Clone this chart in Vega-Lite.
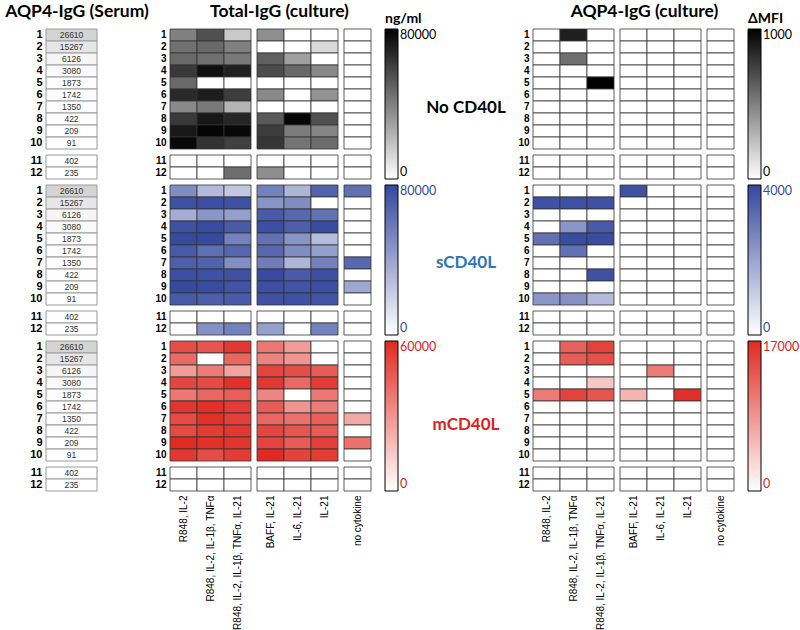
{
"$schema":"https://vega.github.io/schema/vega-lite/v6.json",
"padding":{"left":5,"top":0,"right":2,"bottom":0},
"background":"white",
"columns":8,
"spacing":{"row":6,"column":6},
"align":"each",
"bounds":"flush",
"resolve":{"scale":{"color":"independent"},"legend":{"color":"independent"}},
"config":{
 "view":{"stroke":null},
 "font":"Liberation Sans",
 "rect":{"stroke":"#333","strokeWidth":0.8},
 "axis":{"domain":false,"ticks":false,"labelColor":"#000"},
 "axisY":{"labelFontWeight":"bold","labelFontSize":10,"labelPadding":4},
 "axisX":{"labelAngle":-90,"labelFontSize":10,"labelPadding":4,"labelLimit":250},
 "legend":{"gradientLength":150,"gradientThickness":13,"labelFontSize":12.5,"labelFont":"Lato","labelOffset":2,"titleFontSize":14,"titleFont":"Lato","titleFontWeight":"bold","titlePadding":3,"gradientStrokeColor":"#000","gradientStrokeWidth":1,"padding":0,"labelOverlap":false}
},
"datasets":{
"S":[{"p":1,"v":26610},{"p":2,"v":15267},{"p":3,"v":6126},{"p":4,"v":3080},{"p":5,"v":1873},{"p":6,"v":1742},{"p":7,"v":1350},{"p":8,"v":422},{"p":9,"v":209},{"p":10,"v":91},{"p":11,"v":402},{"p":12,"v":235}],
"cyto":[{"k":1,"c":"R848, IL-2"},{"k":2,"c":"R848, IL-2, IL-1β, TNFα"},{"k":3,"c":"R848, IL-2, IL-1β, TNFα, IL-21"},{"k":4,"c":"BAFF, IL-21"},{"k":5,"c":"IL-6, IL-21"},{"k":6,"c":"IL-21"},{"k":7,"c":"no cytokine"}],
"T":[
{"s":"N","p":1,"k":1,"v":40000},{"s":"N","p":1,"k":2,"v":55000},{"s":"N","p":1,"k":3,"v":17000},{"s":"N","p":1,"k":4,"v":35000},{"s":"N","p":1,"k":5,"v":0},{"s":"N","p":1,"k":6,"v":0},{"s":"N","p":1,"k":7,"v":0},
{"s":"N","p":2,"k":1,"v":45000},{"s":"N","p":2,"k":2,"v":47000},{"s":"N","p":2,"k":3,"v":40000},{"s":"N","p":2,"k":4,"v":0},{"s":"N","p":2,"k":5,"v":0},{"s":"N","p":2,"k":6,"v":12000},{"s":"N","p":2,"k":7,"v":0},
{"s":"N","p":3,"k":1,"v":47000},{"s":"N","p":3,"k":2,"v":45000},{"s":"N","p":3,"k":3,"v":42000},{"s":"N","p":3,"k":4,"v":50000},{"s":"N","p":3,"k":5,"v":30000},{"s":"N","p":3,"k":6,"v":0},{"s":"N","p":3,"k":7,"v":0},
{"s":"N","p":4,"k":1,"v":62000},{"s":"N","p":4,"k":2,"v":75000},{"s":"N","p":4,"k":3,"v":70000},{"s":"N","p":4,"k":4,"v":56000},{"s":"N","p":4,"k":5,"v":47000},{"s":"N","p":4,"k":6,"v":37000},{"s":"N","p":4,"k":7,"v":0},
{"s":"N","p":5,"k":1,"v":47000},{"s":"N","p":5,"k":2,"v":0},{"s":"N","p":5,"k":3,"v":0},{"s":"N","p":5,"k":4,"v":0},{"s":"N","p":5,"k":5,"v":0},{"s":"N","p":5,"k":6,"v":0},{"s":"N","p":5,"k":7,"v":0},
{"s":"N","p":6,"k":1,"v":67000},{"s":"N","p":6,"k":2,"v":71000},{"s":"N","p":6,"k":3,"v":61000},{"s":"N","p":6,"k":4,"v":37000},{"s":"N","p":6,"k":5,"v":0},{"s":"N","p":6,"k":6,"v":34000},{"s":"N","p":6,"k":7,"v":0},
{"s":"N","p":7,"k":1,"v":37000},{"s":"N","p":7,"k":2,"v":42000},{"s":"N","p":7,"k":3,"v":23500},{"s":"N","p":7,"k":4,"v":0},{"s":"N","p":7,"k":5,"v":0},{"s":"N","p":7,"k":6,"v":0},{"s":"N","p":7,"k":7,"v":0},
{"s":"N","p":8,"k":1,"v":62000},{"s":"N","p":8,"k":2,"v":72500},{"s":"N","p":8,"k":3,"v":68000},{"s":"N","p":8,"k":4,"v":52000},{"s":"N","p":8,"k":5,"v":78000},{"s":"N","p":8,"k":6,"v":55000},{"s":"N","p":8,"k":7,"v":0},
{"s":"N","p":9,"k":1,"v":72500},{"s":"N","p":9,"k":2,"v":78500},{"s":"N","p":9,"k":3,"v":77500},{"s":"N","p":9,"k":4,"v":61000},{"s":"N","p":9,"k":5,"v":41000},{"s":"N","p":9,"k":6,"v":38500},{"s":"N","p":9,"k":7,"v":0},
{"s":"N","p":10,"k":1,"v":77500},{"s":"N","p":10,"k":2,"v":64000},{"s":"N","p":10,"k":3,"v":60000},{"s":"N","p":10,"k":4,"v":63000},{"s":"N","p":10,"k":5,"v":43500},{"s":"N","p":10,"k":6,"v":46000},{"s":"N","p":10,"k":7,"v":0},
{"s":"N","p":11,"k":1,"v":0},{"s":"N","p":11,"k":2,"v":0},{"s":"N","p":11,"k":3,"v":0},{"s":"N","p":11,"k":4,"v":0},{"s":"N","p":11,"k":5,"v":0},{"s":"N","p":11,"k":6,"v":0},{"s":"N","p":11,"k":7,"v":0},
{"s":"N","p":12,"k":1,"v":0},{"s":"N","p":12,"k":2,"v":0},{"s":"N","p":12,"k":3,"v":45500},{"s":"N","p":12,"k":4,"v":35500},{"s":"N","p":12,"k":5,"v":0},{"s":"N","p":12,"k":6,"v":0},{"s":"N","p":12,"k":7,"v":0},
{"s":"S","p":1,"k":1,"v":50000},{"s":"S","p":1,"k":2,"v":30000},{"s":"S","p":1,"k":3,"v":24000},{"s":"S","p":1,"k":4,"v":55000},{"s":"S","p":1,"k":5,"v":32000},{"s":"S","p":1,"k":6,"v":68000},{"s":"S","p":1,"k":7,"v":62000},
{"s":"S","p":2,"k":1,"v":76000},{"s":"S","p":2,"k":2,"v":77000},{"s":"S","p":2,"k":3,"v":76000},{"s":"S","p":2,"k":4,"v":47000},{"s":"S","p":2,"k":5,"v":50000},{"s":"S","p":2,"k":6,"v":0},{"s":"S","p":2,"k":7,"v":0},
{"s":"S","p":3,"k":1,"v":36000},{"s":"S","p":3,"k":2,"v":46000},{"s":"S","p":3,"k":3,"v":42000},{"s":"S","p":3,"k":4,"v":72000},{"s":"S","p":3,"k":5,"v":66000},{"s":"S","p":3,"k":6,"v":62000},{"s":"S","p":3,"k":7,"v":0},
{"s":"S","p":4,"k":1,"v":76000},{"s":"S","p":4,"k":2,"v":78000},{"s":"S","p":4,"k":3,"v":72000},{"s":"S","p":4,"k":4,"v":77000},{"s":"S","p":4,"k":5,"v":70000},{"s":"S","p":4,"k":6,"v":78000},{"s":"S","p":4,"k":7,"v":0},
{"s":"S","p":5,"k":1,"v":79000},{"s":"S","p":5,"k":2,"v":79000},{"s":"S","p":5,"k":3,"v":55000},{"s":"S","p":5,"k":4,"v":62000},{"s":"S","p":5,"k":5,"v":47000},{"s":"S","p":5,"k":6,"v":29000},{"s":"S","p":5,"k":7,"v":0},
{"s":"S","p":6,"k":1,"v":72000},{"s":"S","p":6,"k":2,"v":63000},{"s":"S","p":6,"k":3,"v":67000},{"s":"S","p":6,"k":4,"v":66000},{"s":"S","p":6,"k":5,"v":50000},{"s":"S","p":6,"k":6,"v":42000},{"s":"S","p":6,"k":7,"v":0},
{"s":"S","p":7,"k":1,"v":70000},{"s":"S","p":7,"k":2,"v":68000},{"s":"S","p":7,"k":3,"v":49000},{"s":"S","p":7,"k":4,"v":57000},{"s":"S","p":7,"k":5,"v":32000},{"s":"S","p":7,"k":6,"v":55000},{"s":"S","p":7,"k":7,"v":66000},
{"s":"S","p":8,"k":1,"v":77000},{"s":"S","p":8,"k":2,"v":76000},{"s":"S","p":8,"k":3,"v":76000},{"s":"S","p":8,"k":4,"v":79000},{"s":"S","p":8,"k":5,"v":72000},{"s":"S","p":8,"k":6,"v":77000},{"s":"S","p":8,"k":7,"v":0},
{"s":"S","p":9,"k":1,"v":79000},{"s":"S","p":9,"k":2,"v":78000},{"s":"S","p":9,"k":3,"v":75000},{"s":"S","p":9,"k":4,"v":77000},{"s":"S","p":9,"k":5,"v":75000},{"s":"S","p":9,"k":6,"v":77000},{"s":"S","p":9,"k":7,"v":38000},
{"s":"S","p":10,"k":1,"v":72000},{"s":"S","p":10,"k":2,"v":70000},{"s":"S","p":10,"k":3,"v":72000},{"s":"S","p":10,"k":4,"v":76000},{"s":"S","p":10,"k":5,"v":76000},{"s":"S","p":10,"k":6,"v":75000},{"s":"S","p":10,"k":7,"v":0},
{"s":"S","p":11,"k":1,"v":0},{"s":"S","p":11,"k":2,"v":0},{"s":"S","p":11,"k":3,"v":0},{"s":"S","p":11,"k":4,"v":0},{"s":"S","p":11,"k":5,"v":0},{"s":"S","p":11,"k":6,"v":0},{"s":"S","p":11,"k":7,"v":0},
{"s":"S","p":12,"k":1,"v":0},{"s":"S","p":12,"k":2,"v":48000},{"s":"S","p":12,"k":3,"v":55000},{"s":"S","p":12,"k":4,"v":42000},{"s":"S","p":12,"k":5,"v":0},{"s":"S","p":12,"k":6,"v":55000},{"s":"S","p":12,"k":7,"v":0},
{"s":"M","p":1,"k":1,"v":50000},{"s":"M","p":1,"k":2,"v":48000},{"s":"M","p":1,"k":3,"v":56000},{"s":"M","p":1,"k":4,"v":38000},{"s":"M","p":1,"k":5,"v":28000},{"s":"M","p":1,"k":6,"v":0},{"s":"M","p":1,"k":7,"v":0},
{"s":"M","p":2,"k":1,"v":42000},{"s":"M","p":2,"k":2,"v":0},{"s":"M","p":2,"k":3,"v":43000},{"s":"M","p":2,"k":4,"v":35000},{"s":"M","p":2,"k":5,"v":30000},{"s":"M","p":2,"k":6,"v":0},{"s":"M","p":2,"k":7,"v":0},
{"s":"M","p":3,"k":1,"v":28000},{"s":"M","p":3,"k":2,"v":37000},{"s":"M","p":3,"k":3,"v":26000},{"s":"M","p":3,"k":4,"v":52000},{"s":"M","p":3,"k":5,"v":50000},{"s":"M","p":3,"k":6,"v":46000},{"s":"M","p":3,"k":7,"v":0},
{"s":"M","p":4,"k":1,"v":52000},{"s":"M","p":4,"k":2,"v":51000},{"s":"M","p":4,"k":3,"v":58000},{"s":"M","p":4,"k":4,"v":56000},{"s":"M","p":4,"k":5,"v":42000},{"s":"M","p":4,"k":6,"v":55000},{"s":"M","p":4,"k":7,"v":0},
{"s":"M","p":5,"k":1,"v":38000},{"s":"M","p":5,"k":2,"v":43000},{"s":"M","p":5,"k":3,"v":45000},{"s":"M","p":5,"k":4,"v":34000},{"s":"M","p":5,"k":5,"v":0},{"s":"M","p":5,"k":6,"v":38000},{"s":"M","p":5,"k":7,"v":0},
{"s":"M","p":6,"k":1,"v":57000},{"s":"M","p":6,"k":2,"v":58000},{"s":"M","p":6,"k":3,"v":55000},{"s":"M","p":6,"k":4,"v":46000},{"s":"M","p":6,"k":5,"v":30000},{"s":"M","p":6,"k":6,"v":37000},{"s":"M","p":6,"k":7,"v":0},
{"s":"M","p":7,"k":1,"v":51000},{"s":"M","p":7,"k":2,"v":58000},{"s":"M","p":7,"k":3,"v":54000},{"s":"M","p":7,"k":4,"v":43000},{"s":"M","p":7,"k":5,"v":40000},{"s":"M","p":7,"k":6,"v":45000},{"s":"M","p":7,"k":7,"v":24000},
{"s":"M","p":8,"k":1,"v":51000},{"s":"M","p":8,"k":2,"v":55000},{"s":"M","p":8,"k":3,"v":56000},{"s":"M","p":8,"k":4,"v":52000},{"s":"M","p":8,"k":5,"v":48000},{"s":"M","p":8,"k":6,"v":46000},{"s":"M","p":8,"k":7,"v":0},
{"s":"M","p":9,"k":1,"v":60000},{"s":"M","p":9,"k":2,"v":58000},{"s":"M","p":9,"k":3,"v":57000},{"s":"M","p":9,"k":4,"v":52000},{"s":"M","p":9,"k":5,"v":46000},{"s":"M","p":9,"k":6,"v":54000},{"s":"M","p":9,"k":7,"v":40000},
{"s":"M","p":10,"k":1,"v":56000},{"s":"M","p":10,"k":2,"v":50000},{"s":"M","p":10,"k":3,"v":55000},{"s":"M","p":10,"k":4,"v":60000},{"s":"M","p":10,"k":5,"v":53000},{"s":"M","p":10,"k":6,"v":55000},{"s":"M","p":10,"k":7,"v":0},
{"s":"M","p":11,"k":1,"v":0},{"s":"M","p":11,"k":2,"v":0},{"s":"M","p":11,"k":3,"v":0},{"s":"M","p":11,"k":4,"v":0},{"s":"M","p":11,"k":5,"v":0},{"s":"M","p":11,"k":6,"v":0},{"s":"M","p":11,"k":7,"v":0},
{"s":"M","p":12,"k":1,"v":0},{"s":"M","p":12,"k":2,"v":0},{"s":"M","p":12,"k":3,"v":0},{"s":"M","p":12,"k":4,"v":0},{"s":"M","p":12,"k":5,"v":0},{"s":"M","p":12,"k":6,"v":0},{"s":"M","p":12,"k":7,"v":0}
],
"A":[
{"s":"N","p":1,"k":1,"v":0},{"s":"N","p":1,"k":2,"v":880},{"s":"N","p":1,"k":3,"v":0},{"s":"N","p":1,"k":4,"v":0},{"s":"N","p":1,"k":5,"v":0},{"s":"N","p":1,"k":6,"v":0},{"s":"N","p":1,"k":7,"v":0},
{"s":"N","p":2,"k":1,"v":0},{"s":"N","p":2,"k":2,"v":0},{"s":"N","p":2,"k":3,"v":0},{"s":"N","p":2,"k":4,"v":0},{"s":"N","p":2,"k":5,"v":0},{"s":"N","p":2,"k":6,"v":0},{"s":"N","p":2,"k":7,"v":0},
{"s":"N","p":3,"k":1,"v":0},{"s":"N","p":3,"k":2,"v":560},{"s":"N","p":3,"k":3,"v":0},{"s":"N","p":3,"k":4,"v":0},{"s":"N","p":3,"k":5,"v":0},{"s":"N","p":3,"k":6,"v":0},{"s":"N","p":3,"k":7,"v":0},
{"s":"N","p":4,"k":1,"v":0},{"s":"N","p":4,"k":2,"v":0},{"s":"N","p":4,"k":3,"v":0},{"s":"N","p":4,"k":4,"v":0},{"s":"N","p":4,"k":5,"v":0},{"s":"N","p":4,"k":6,"v":0},{"s":"N","p":4,"k":7,"v":0},
{"s":"N","p":5,"k":1,"v":0},{"s":"N","p":5,"k":2,"v":0},{"s":"N","p":5,"k":3,"v":1000},{"s":"N","p":5,"k":4,"v":0},{"s":"N","p":5,"k":5,"v":0},{"s":"N","p":5,"k":6,"v":0},{"s":"N","p":5,"k":7,"v":0},
{"s":"N","p":6,"k":1,"v":0},{"s":"N","p":6,"k":2,"v":0},{"s":"N","p":6,"k":3,"v":0},{"s":"N","p":6,"k":4,"v":0},{"s":"N","p":6,"k":5,"v":0},{"s":"N","p":6,"k":6,"v":0},{"s":"N","p":6,"k":7,"v":0},
{"s":"N","p":7,"k":1,"v":0},{"s":"N","p":7,"k":2,"v":0},{"s":"N","p":7,"k":3,"v":0},{"s":"N","p":7,"k":4,"v":0},{"s":"N","p":7,"k":5,"v":0},{"s":"N","p":7,"k":6,"v":0},{"s":"N","p":7,"k":7,"v":0},
{"s":"N","p":8,"k":1,"v":0},{"s":"N","p":8,"k":2,"v":0},{"s":"N","p":8,"k":3,"v":0},{"s":"N","p":8,"k":4,"v":0},{"s":"N","p":8,"k":5,"v":0},{"s":"N","p":8,"k":6,"v":0},{"s":"N","p":8,"k":7,"v":0},
{"s":"N","p":9,"k":1,"v":0},{"s":"N","p":9,"k":2,"v":0},{"s":"N","p":9,"k":3,"v":0},{"s":"N","p":9,"k":4,"v":0},{"s":"N","p":9,"k":5,"v":0},{"s":"N","p":9,"k":6,"v":0},{"s":"N","p":9,"k":7,"v":0},
{"s":"N","p":10,"k":1,"v":0},{"s":"N","p":10,"k":2,"v":0},{"s":"N","p":10,"k":3,"v":0},{"s":"N","p":10,"k":4,"v":0},{"s":"N","p":10,"k":5,"v":0},{"s":"N","p":10,"k":6,"v":0},{"s":"N","p":10,"k":7,"v":0},
{"s":"N","p":11,"k":1,"v":0},{"s":"N","p":11,"k":2,"v":0},{"s":"N","p":11,"k":3,"v":0},{"s":"N","p":11,"k":4,"v":0},{"s":"N","p":11,"k":5,"v":0},{"s":"N","p":11,"k":6,"v":0},{"s":"N","p":11,"k":7,"v":0},
{"s":"N","p":12,"k":1,"v":0},{"s":"N","p":12,"k":2,"v":0},{"s":"N","p":12,"k":3,"v":0},{"s":"N","p":12,"k":4,"v":0},{"s":"N","p":12,"k":5,"v":0},{"s":"N","p":12,"k":6,"v":0},{"s":"N","p":12,"k":7,"v":0},
{"s":"S","p":1,"k":1,"v":0},{"s":"S","p":1,"k":2,"v":0},{"s":"S","p":1,"k":3,"v":0},{"s":"S","p":1,"k":4,"v":3800},{"s":"S","p":1,"k":5,"v":0},{"s":"S","p":1,"k":6,"v":0},{"s":"S","p":1,"k":7,"v":0},
{"s":"S","p":2,"k":1,"v":3800},{"s":"S","p":2,"k":2,"v":3800},{"s":"S","p":2,"k":3,"v":3800},{"s":"S","p":2,"k":4,"v":0},{"s":"S","p":2,"k":5,"v":0},{"s":"S","p":2,"k":6,"v":0},{"s":"S","p":2,"k":7,"v":0},
{"s":"S","p":3,"k":1,"v":0},{"s":"S","p":3,"k":2,"v":0},{"s":"S","p":3,"k":3,"v":0},{"s":"S","p":3,"k":4,"v":0},{"s":"S","p":3,"k":5,"v":0},{"s":"S","p":3,"k":6,"v":0},{"s":"S","p":3,"k":7,"v":0},
{"s":"S","p":4,"k":1,"v":0},{"s":"S","p":4,"k":2,"v":2300},{"s":"S","p":4,"k":3,"v":3600},{"s":"S","p":4,"k":4,"v":0},{"s":"S","p":4,"k":5,"v":0},{"s":"S","p":4,"k":6,"v":0},{"s":"S","p":4,"k":7,"v":0},
{"s":"S","p":5,"k":1,"v":3100},{"s":"S","p":5,"k":2,"v":3900},{"s":"S","p":5,"k":3,"v":3900},{"s":"S","p":5,"k":4,"v":0},{"s":"S","p":5,"k":5,"v":0},{"s":"S","p":5,"k":6,"v":0},{"s":"S","p":5,"k":7,"v":0},
{"s":"S","p":6,"k":1,"v":0},{"s":"S","p":6,"k":2,"v":3100},{"s":"S","p":6,"k":3,"v":0},{"s":"S","p":6,"k":4,"v":0},{"s":"S","p":6,"k":5,"v":0},{"s":"S","p":6,"k":6,"v":0},{"s":"S","p":6,"k":7,"v":0},
{"s":"S","p":7,"k":1,"v":0},{"s":"S","p":7,"k":2,"v":0},{"s":"S","p":7,"k":3,"v":0},{"s":"S","p":7,"k":4,"v":0},{"s":"S","p":7,"k":5,"v":0},{"s":"S","p":7,"k":6,"v":0},{"s":"S","p":7,"k":7,"v":0},
{"s":"S","p":8,"k":1,"v":0},{"s":"S","p":8,"k":2,"v":0},{"s":"S","p":8,"k":3,"v":3800},{"s":"S","p":8,"k":4,"v":0},{"s":"S","p":8,"k":5,"v":0},{"s":"S","p":8,"k":6,"v":0},{"s":"S","p":8,"k":7,"v":0},
{"s":"S","p":9,"k":1,"v":0},{"s":"S","p":9,"k":2,"v":0},{"s":"S","p":9,"k":3,"v":0},{"s":"S","p":9,"k":4,"v":0},{"s":"S","p":9,"k":5,"v":0},{"s":"S","p":9,"k":6,"v":0},{"s":"S","p":9,"k":7,"v":0},
{"s":"S","p":10,"k":1,"v":2300},{"s":"S","p":10,"k":2,"v":2400},{"s":"S","p":10,"k":3,"v":1500},{"s":"S","p":10,"k":4,"v":0},{"s":"S","p":10,"k":5,"v":0},{"s":"S","p":10,"k":6,"v":0},{"s":"S","p":10,"k":7,"v":0},
{"s":"S","p":11,"k":1,"v":0},{"s":"S","p":11,"k":2,"v":0},{"s":"S","p":11,"k":3,"v":0},{"s":"S","p":11,"k":4,"v":0},{"s":"S","p":11,"k":5,"v":0},{"s":"S","p":11,"k":6,"v":0},{"s":"S","p":11,"k":7,"v":0},
{"s":"S","p":12,"k":1,"v":0},{"s":"S","p":12,"k":2,"v":0},{"s":"S","p":12,"k":3,"v":0},{"s":"S","p":12,"k":4,"v":0},{"s":"S","p":12,"k":5,"v":0},{"s":"S","p":12,"k":6,"v":0},{"s":"S","p":12,"k":7,"v":0},
{"s":"M","p":1,"k":1,"v":0},{"s":"M","p":1,"k":2,"v":12500},{"s":"M","p":1,"k":3,"v":15000},{"s":"M","p":1,"k":4,"v":0},{"s":"M","p":1,"k":5,"v":0},{"s":"M","p":1,"k":6,"v":0},{"s":"M","p":1,"k":7,"v":0},
{"s":"M","p":2,"k":1,"v":0},{"s":"M","p":2,"k":2,"v":13000},{"s":"M","p":2,"k":3,"v":14000},{"s":"M","p":2,"k":4,"v":0},{"s":"M","p":2,"k":5,"v":0},{"s":"M","p":2,"k":6,"v":0},{"s":"M","p":2,"k":7,"v":0},
{"s":"M","p":3,"k":1,"v":0},{"s":"M","p":3,"k":2,"v":0},{"s":"M","p":3,"k":3,"v":0},{"s":"M","p":3,"k":4,"v":0},{"s":"M","p":3,"k":5,"v":10500},{"s":"M","p":3,"k":6,"v":0},{"s":"M","p":3,"k":7,"v":0},
{"s":"M","p":4,"k":1,"v":0},{"s":"M","p":4,"k":2,"v":0},{"s":"M","p":4,"k":3,"v":4500},{"s":"M","p":4,"k":4,"v":0},{"s":"M","p":4,"k":5,"v":0},{"s":"M","p":4,"k":6,"v":0},{"s":"M","p":4,"k":7,"v":0},
{"s":"M","p":5,"k":1,"v":10500},{"s":"M","p":5,"k":2,"v":15000},{"s":"M","p":5,"k":3,"v":13500},{"s":"M","p":5,"k":4,"v":6000},{"s":"M","p":5,"k":5,"v":0},{"s":"M","p":5,"k":6,"v":16500},{"s":"M","p":5,"k":7,"v":0},
{"s":"M","p":6,"k":1,"v":0},{"s":"M","p":6,"k":2,"v":0},{"s":"M","p":6,"k":3,"v":0},{"s":"M","p":6,"k":4,"v":0},{"s":"M","p":6,"k":5,"v":0},{"s":"M","p":6,"k":6,"v":0},{"s":"M","p":6,"k":7,"v":0},
{"s":"M","p":7,"k":1,"v":0},{"s":"M","p":7,"k":2,"v":0},{"s":"M","p":7,"k":3,"v":0},{"s":"M","p":7,"k":4,"v":0},{"s":"M","p":7,"k":5,"v":0},{"s":"M","p":7,"k":6,"v":0},{"s":"M","p":7,"k":7,"v":0},
{"s":"M","p":8,"k":1,"v":0},{"s":"M","p":8,"k":2,"v":0},{"s":"M","p":8,"k":3,"v":0},{"s":"M","p":8,"k":4,"v":0},{"s":"M","p":8,"k":5,"v":0},{"s":"M","p":8,"k":6,"v":0},{"s":"M","p":8,"k":7,"v":0},
{"s":"M","p":9,"k":1,"v":0},{"s":"M","p":9,"k":2,"v":0},{"s":"M","p":9,"k":3,"v":0},{"s":"M","p":9,"k":4,"v":0},{"s":"M","p":9,"k":5,"v":0},{"s":"M","p":9,"k":6,"v":0},{"s":"M","p":9,"k":7,"v":0},
{"s":"M","p":10,"k":1,"v":0},{"s":"M","p":10,"k":2,"v":0},{"s":"M","p":10,"k":3,"v":0},{"s":"M","p":10,"k":4,"v":0},{"s":"M","p":10,"k":5,"v":0},{"s":"M","p":10,"k":6,"v":0},{"s":"M","p":10,"k":7,"v":0},
{"s":"M","p":11,"k":1,"v":0},{"s":"M","p":11,"k":2,"v":0},{"s":"M","p":11,"k":3,"v":0},{"s":"M","p":11,"k":4,"v":0},{"s":"M","p":11,"k":5,"v":0},{"s":"M","p":11,"k":6,"v":0},{"s":"M","p":11,"k":7,"v":0},
{"s":"M","p":12,"k":1,"v":0},{"s":"M","p":12,"k":2,"v":0},{"s":"M","p":12,"k":3,"v":0},{"s":"M","p":12,"k":4,"v":0},{"s":"M","p":12,"k":5,"v":0},{"s":"M","p":12,"k":6,"v":0},{"s":"M","p":12,"k":7,"v":0}
]
},
"concat":[
{"width":118,"height":23,"data":{"values":[{"t":"AQP4-IgG (Serum)"}]},"mark":{"type":"text","font":"Lato","fontSize":17.5,"fontWeight":"bold","color":"#000","dx":-28},"encoding":{"text":{"field":"t"}}},
{"width":81,"height":23,"data":{"values":[]},"mark":"text"},
{"width":81,"height":23,"data":{"values":[{"t":"Total-IgG (culture)"}]},"mark":{"type":"text","font":"Lato","fontSize":17.5,"fontWeight":"bold","color":"#000","dx":-18},"encoding":{"text":{"field":"t"}}},
{"width":27,"height":23,"data":{"values":[]},"mark":"text"},
{"width":150,"height":23,"data":{"values":[]},"mark":"text"},
{"width":81,"height":23,"data":{"values":[]},"mark":"text"},
{"width":81,"height":23,"data":{"values":[{"t":"AQP4-IgG (culture)"}]},"mark":{"type":"text","font":"Lato","fontSize":17.5,"fontWeight":"bold","color":"#000","dx":-16},"encoding":{"text":{"field":"t"}}},
{"width":27,"height":23,"data":{"values":[]},"mark":"text"},

{"width":51,"height":120,"data":{"name":"S"},"transform":[{"filter":"datum.p<=10"}],"encoding":{"y":{"field":"p","type":"ordinal","title":null,"axis":{"labelFontSize":11}}},"layer":[{"mark":{"type":"rect","stroke":"#9a9a9a","strokeWidth":1},"encoding":{"color":{"field":"v","type":"quantitative","scale":{"domain":[0,26610],"range":["#ffffff","#d4d4d4"]},"legend":null}}},{"mark":{"type":"text","fontSize":8.5,"color":"#333"},"encoding":{"text":{"field":"v","type":"nominal"}}}]},
{"width":81,"height":120,"data":{"name":"T"},"transform":[{"filter":"datum.s=='N'&&datum.p<=10&&datum.k<=3"}],"mark":"rect","encoding":{"x":{"field":"k","type":"ordinal","axis":null},"y":{"field":"p","type":"ordinal","title":null},"color":{"field":"v","type":"quantitative","scale":{"domain":[0,80000],"range":["#ffffff","#000000"],"interpolate":"rgb"},"legend":null}}},
{"width":81,"height":120,"data":{"name":"T"},"transform":[{"filter":"datum.s=='N'&&datum.p<=10&&datum.k>=4&&datum.k<=6"}],"mark":"rect","encoding":{"x":{"field":"k","type":"ordinal","axis":null},"y":{"field":"p","type":"ordinal","axis":null},"color":{"field":"v","type":"quantitative","scale":{"domain":[0,80000],"range":["#ffffff","#000000"],"interpolate":"rgb"},"legend":null}}},
{"width":27,"height":120,"data":{"name":"T"},"transform":[{"filter":"datum.s=='N'&&datum.p<=10&&datum.k==7"}],"mark":"rect","encoding":{"x":{"field":"k","type":"ordinal","axis":null},"y":{"field":"p","type":"ordinal","axis":null},"color":{"field":"v","type":"quantitative","scale":{"domain":[0,80000],"range":["#ffffff","#000000"],"interpolate":"rgb"},"legend":{"title":"ng/ml","orient":"none","direction":"vertical","legendX":41,"legendY":-17,"values":[0,80000],"format":"d","labelColor":"#000"}}}},
{"width":150,"height":120,"data":{"values":[{"t":"No CD40L"}]},"mark":{"type":"text","font":"Lato","fontSize":17,"fontWeight":"bold","color":"#000","dx":14,"dy":19},"encoding":{"text":{"field":"t"}}},
{"width":81,"height":120,"data":{"name":"A"},"transform":[{"filter":"datum.s=='N'&&datum.p<=10&&datum.k<=3"}],"mark":"rect","encoding":{"x":{"field":"k","type":"ordinal","axis":null},"y":{"field":"p","type":"ordinal","title":null},"color":{"field":"v","type":"quantitative","scale":{"domain":[0,1000],"range":["#ffffff","#000000"],"interpolate":"rgb"},"legend":null}}},
{"width":81,"height":120,"data":{"name":"A"},"transform":[{"filter":"datum.s=='N'&&datum.p<=10&&datum.k>=4&&datum.k<=6"}],"mark":"rect","encoding":{"x":{"field":"k","type":"ordinal","axis":null},"y":{"field":"p","type":"ordinal","axis":null},"color":{"field":"v","type":"quantitative","scale":{"domain":[0,1000],"range":["#ffffff","#000000"],"interpolate":"rgb"},"legend":null}}},
{"width":27,"height":120,"data":{"name":"A"},"transform":[{"filter":"datum.s=='N'&&datum.p<=10&&datum.k==7"}],"mark":"rect","encoding":{"x":{"field":"k","type":"ordinal","axis":null},"y":{"field":"p","type":"ordinal","axis":null},"color":{"field":"v","type":"quantitative","scale":{"domain":[0,1000],"range":["#ffffff","#000000"],"interpolate":"rgb"},"legend":{"title":"ΔMFI","orient":"none","direction":"vertical","legendX":41,"legendY":-17,"values":[0,1000],"format":"d","labelColor":"#000"}}}},

{"width":51,"height":24,"data":{"name":"S"},"transform":[{"filter":"datum.p>10"}],"encoding":{"y":{"field":"p","type":"ordinal","title":null,"axis":{"labelFontSize":11}}},"layer":[{"mark":{"type":"rect","stroke":"#9a9a9a","strokeWidth":1},"encoding":{"color":{"field":"v","type":"quantitative","scale":{"domain":[0,26610],"range":["#ffffff","#d4d4d4"]},"legend":null}}},{"mark":{"type":"text","fontSize":8.5,"color":"#333"},"encoding":{"text":{"field":"v","type":"nominal"}}}]},
{"width":81,"height":24,"data":{"name":"T"},"transform":[{"filter":"datum.s=='N'&&datum.p>10&&datum.k<=3"}],"mark":"rect","encoding":{"x":{"field":"k","type":"ordinal","axis":null},"y":{"field":"p","type":"ordinal","title":null},"color":{"field":"v","type":"quantitative","scale":{"domain":[0,80000],"range":["#ffffff","#000000"],"interpolate":"rgb"},"legend":null}}},
{"width":81,"height":24,"data":{"name":"T"},"transform":[{"filter":"datum.s=='N'&&datum.p>10&&datum.k>=4&&datum.k<=6"}],"mark":"rect","encoding":{"x":{"field":"k","type":"ordinal","axis":null},"y":{"field":"p","type":"ordinal","axis":null},"color":{"field":"v","type":"quantitative","scale":{"domain":[0,80000],"range":["#ffffff","#000000"],"interpolate":"rgb"},"legend":null}}},
{"width":27,"height":24,"data":{"name":"T"},"transform":[{"filter":"datum.s=='N'&&datum.p>10&&datum.k==7"}],"mark":"rect","encoding":{"x":{"field":"k","type":"ordinal","axis":null},"y":{"field":"p","type":"ordinal","axis":null},"color":{"field":"v","type":"quantitative","scale":{"domain":[0,80000],"range":["#ffffff","#000000"],"interpolate":"rgb"},"legend":null}}},
{"width":150,"height":24,"data":{"values":[]},"mark":"text"},
{"width":81,"height":24,"data":{"name":"A"},"transform":[{"filter":"datum.s=='N'&&datum.p>10&&datum.k<=3"}],"mark":"rect","encoding":{"x":{"field":"k","type":"ordinal","axis":null},"y":{"field":"p","type":"ordinal","title":null},"color":{"field":"v","type":"quantitative","scale":{"domain":[0,1000],"range":["#ffffff","#000000"],"interpolate":"rgb"},"legend":null}}},
{"width":81,"height":24,"data":{"name":"A"},"transform":[{"filter":"datum.s=='N'&&datum.p>10&&datum.k>=4&&datum.k<=6"}],"mark":"rect","encoding":{"x":{"field":"k","type":"ordinal","axis":null},"y":{"field":"p","type":"ordinal","axis":null},"color":{"field":"v","type":"quantitative","scale":{"domain":[0,1000],"range":["#ffffff","#000000"],"interpolate":"rgb"},"legend":null}}},
{"width":27,"height":24,"data":{"name":"A"},"transform":[{"filter":"datum.s=='N'&&datum.p>10&&datum.k==7"}],"mark":"rect","encoding":{"x":{"field":"k","type":"ordinal","axis":null},"y":{"field":"p","type":"ordinal","axis":null},"color":{"field":"v","type":"quantitative","scale":{"domain":[0,1000],"range":["#ffffff","#000000"],"interpolate":"rgb"},"legend":null}}},

{"width":51,"height":120,"data":{"name":"S"},"transform":[{"filter":"datum.p<=10"}],"encoding":{"y":{"field":"p","type":"ordinal","title":null,"axis":{"labelFontSize":11}}},"layer":[{"mark":{"type":"rect","stroke":"#9a9a9a","strokeWidth":1},"encoding":{"color":{"field":"v","type":"quantitative","scale":{"domain":[0,26610],"range":["#ffffff","#d4d4d4"]},"legend":null}}},{"mark":{"type":"text","fontSize":8.5,"color":"#333"},"encoding":{"text":{"field":"v","type":"nominal"}}}]},
{"width":81,"height":120,"data":{"name":"T"},"transform":[{"filter":"datum.s=='S'&&datum.p<=10&&datum.k<=3"}],"mark":"rect","encoding":{"x":{"field":"k","type":"ordinal","axis":null},"y":{"field":"p","type":"ordinal","title":null},"color":{"field":"v","type":"quantitative","scale":{"domain":[0,80000],"range":["#ffffff","#34489e"],"interpolate":"rgb"},"legend":null}}},
{"width":81,"height":120,"data":{"name":"T"},"transform":[{"filter":"datum.s=='S'&&datum.p<=10&&datum.k>=4&&datum.k<=6"}],"mark":"rect","encoding":{"x":{"field":"k","type":"ordinal","axis":null},"y":{"field":"p","type":"ordinal","axis":null},"color":{"field":"v","type":"quantitative","scale":{"domain":[0,80000],"range":["#ffffff","#34489e"],"interpolate":"rgb"},"legend":null}}},
{"width":27,"height":120,"data":{"name":"T"},"transform":[{"filter":"datum.s=='S'&&datum.p<=10&&datum.k==7"}],"mark":"rect","encoding":{"x":{"field":"k","type":"ordinal","axis":null},"y":{"field":"p","type":"ordinal","axis":null},"color":{"field":"v","type":"quantitative","scale":{"domain":[0,80000],"range":["#ffffff","#34489e"],"interpolate":"rgb"},"legend":{"title":null,"orient":"none","direction":"vertical","legendX":41,"legendY":0,"values":[0,80000],"format":"d","labelColor":"#34489e"}}}},
{"width":150,"height":120,"data":{"values":[{"t":"sCD40L"}]},"mark":{"type":"text","font":"Lato","fontSize":17,"fontWeight":"bold","color":"#2e75b6","dx":14,"dy":18},"encoding":{"text":{"field":"t"}}},
{"width":81,"height":120,"data":{"name":"A"},"transform":[{"filter":"datum.s=='S'&&datum.p<=10&&datum.k<=3"}],"mark":"rect","encoding":{"x":{"field":"k","type":"ordinal","axis":null},"y":{"field":"p","type":"ordinal","title":null},"color":{"field":"v","type":"quantitative","scale":{"domain":[0,4000],"range":["#ffffff","#34489e"],"interpolate":"rgb"},"legend":null}}},
{"width":81,"height":120,"data":{"name":"A"},"transform":[{"filter":"datum.s=='S'&&datum.p<=10&&datum.k>=4&&datum.k<=6"}],"mark":"rect","encoding":{"x":{"field":"k","type":"ordinal","axis":null},"y":{"field":"p","type":"ordinal","axis":null},"color":{"field":"v","type":"quantitative","scale":{"domain":[0,4000],"range":["#ffffff","#34489e"],"interpolate":"rgb"},"legend":null}}},
{"width":27,"height":120,"data":{"name":"A"},"transform":[{"filter":"datum.s=='S'&&datum.p<=10&&datum.k==7"}],"mark":"rect","encoding":{"x":{"field":"k","type":"ordinal","axis":null},"y":{"field":"p","type":"ordinal","axis":null},"color":{"field":"v","type":"quantitative","scale":{"domain":[0,4000],"range":["#ffffff","#34489e"],"interpolate":"rgb"},"legend":{"title":null,"orient":"none","direction":"vertical","legendX":41,"legendY":0,"values":[0,4000],"format":"d","labelColor":"#34489e"}}}},

{"width":51,"height":24,"data":{"name":"S"},"transform":[{"filter":"datum.p>10"}],"encoding":{"y":{"field":"p","type":"ordinal","title":null,"axis":{"labelFontSize":11}}},"layer":[{"mark":{"type":"rect","stroke":"#9a9a9a","strokeWidth":1},"encoding":{"color":{"field":"v","type":"quantitative","scale":{"domain":[0,26610],"range":["#ffffff","#d4d4d4"]},"legend":null}}},{"mark":{"type":"text","fontSize":8.5,"color":"#333"},"encoding":{"text":{"field":"v","type":"nominal"}}}]},
{"width":81,"height":24,"data":{"name":"T"},"transform":[{"filter":"datum.s=='S'&&datum.p>10&&datum.k<=3"}],"mark":"rect","encoding":{"x":{"field":"k","type":"ordinal","axis":null},"y":{"field":"p","type":"ordinal","title":null},"color":{"field":"v","type":"quantitative","scale":{"domain":[0,80000],"range":["#ffffff","#34489e"],"interpolate":"rgb"},"legend":null}}},
{"width":81,"height":24,"data":{"name":"T"},"transform":[{"filter":"datum.s=='S'&&datum.p>10&&datum.k>=4&&datum.k<=6"}],"mark":"rect","encoding":{"x":{"field":"k","type":"ordinal","axis":null},"y":{"field":"p","type":"ordinal","axis":null},"color":{"field":"v","type":"quantitative","scale":{"domain":[0,80000],"range":["#ffffff","#34489e"],"interpolate":"rgb"},"legend":null}}},
{"width":27,"height":24,"data":{"name":"T"},"transform":[{"filter":"datum.s=='S'&&datum.p>10&&datum.k==7"}],"mark":"rect","encoding":{"x":{"field":"k","type":"ordinal","axis":null},"y":{"field":"p","type":"ordinal","axis":null},"color":{"field":"v","type":"quantitative","scale":{"domain":[0,80000],"range":["#ffffff","#34489e"],"interpolate":"rgb"},"legend":null}}},
{"width":150,"height":24,"data":{"values":[]},"mark":"text"},
{"width":81,"height":24,"data":{"name":"A"},"transform":[{"filter":"datum.s=='S'&&datum.p>10&&datum.k<=3"}],"mark":"rect","encoding":{"x":{"field":"k","type":"ordinal","axis":null},"y":{"field":"p","type":"ordinal","title":null},"color":{"field":"v","type":"quantitative","scale":{"domain":[0,4000],"range":["#ffffff","#34489e"],"interpolate":"rgb"},"legend":null}}},
{"width":81,"height":24,"data":{"name":"A"},"transform":[{"filter":"datum.s=='S'&&datum.p>10&&datum.k>=4&&datum.k<=6"}],"mark":"rect","encoding":{"x":{"field":"k","type":"ordinal","axis":null},"y":{"field":"p","type":"ordinal","axis":null},"color":{"field":"v","type":"quantitative","scale":{"domain":[0,4000],"range":["#ffffff","#34489e"],"interpolate":"rgb"},"legend":null}}},
{"width":27,"height":24,"data":{"name":"A"},"transform":[{"filter":"datum.s=='S'&&datum.p>10&&datum.k==7"}],"mark":"rect","encoding":{"x":{"field":"k","type":"ordinal","axis":null},"y":{"field":"p","type":"ordinal","axis":null},"color":{"field":"v","type":"quantitative","scale":{"domain":[0,4000],"range":["#ffffff","#34489e"],"interpolate":"rgb"},"legend":null}}},

{"width":51,"height":120,"data":{"name":"S"},"transform":[{"filter":"datum.p<=10"}],"encoding":{"y":{"field":"p","type":"ordinal","title":null,"axis":{"labelFontSize":11}}},"layer":[{"mark":{"type":"rect","stroke":"#9a9a9a","strokeWidth":1},"encoding":{"color":{"field":"v","type":"quantitative","scale":{"domain":[0,26610],"range":["#ffffff","#d4d4d4"]},"legend":null}}},{"mark":{"type":"text","fontSize":8.5,"color":"#333"},"encoding":{"text":{"field":"v","type":"nominal"}}}]},
{"width":81,"height":120,"data":{"name":"T"},"transform":[{"filter":"datum.s=='M'&&datum.p<=10&&datum.k<=3"}],"mark":"rect","encoding":{"x":{"field":"k","type":"ordinal","axis":null},"y":{"field":"p","type":"ordinal","title":null},"color":{"field":"v","type":"quantitative","scale":{"domain":[0,60000],"range":["#ffffff","#e02a22"],"interpolate":"rgb"},"legend":null}}},
{"width":81,"height":120,"data":{"name":"T"},"transform":[{"filter":"datum.s=='M'&&datum.p<=10&&datum.k>=4&&datum.k<=6"}],"mark":"rect","encoding":{"x":{"field":"k","type":"ordinal","axis":null},"y":{"field":"p","type":"ordinal","axis":null},"color":{"field":"v","type":"quantitative","scale":{"domain":[0,60000],"range":["#ffffff","#e02a22"],"interpolate":"rgb"},"legend":null}}},
{"width":27,"height":120,"data":{"name":"T"},"transform":[{"filter":"datum.s=='M'&&datum.p<=10&&datum.k==7"}],"mark":"rect","encoding":{"x":{"field":"k","type":"ordinal","axis":null},"y":{"field":"p","type":"ordinal","axis":null},"color":{"field":"v","type":"quantitative","scale":{"domain":[0,60000],"range":["#ffffff","#e02a22"],"interpolate":"rgb"},"legend":{"title":null,"orient":"none","direction":"vertical","legendX":41,"legendY":0,"values":[0,60000],"format":"d","labelColor":"#e0201b"}}}},
{"width":150,"height":120,"data":{"values":[{"t":"mCD40L"}]},"mark":{"type":"text","font":"Lato","fontSize":17,"fontWeight":"bold","color":"#e0201b","dx":14,"dy":24},"encoding":{"text":{"field":"t"}}},
{"width":81,"height":120,"data":{"name":"A"},"transform":[{"filter":"datum.s=='M'&&datum.p<=10&&datum.k<=3"}],"mark":"rect","encoding":{"x":{"field":"k","type":"ordinal","axis":null},"y":{"field":"p","type":"ordinal","title":null},"color":{"field":"v","type":"quantitative","scale":{"domain":[0,17000],"range":["#ffffff","#e02a22"],"interpolate":"rgb"},"legend":null}}},
{"width":81,"height":120,"data":{"name":"A"},"transform":[{"filter":"datum.s=='M'&&datum.p<=10&&datum.k>=4&&datum.k<=6"}],"mark":"rect","encoding":{"x":{"field":"k","type":"ordinal","axis":null},"y":{"field":"p","type":"ordinal","axis":null},"color":{"field":"v","type":"quantitative","scale":{"domain":[0,17000],"range":["#ffffff","#e02a22"],"interpolate":"rgb"},"legend":null}}},
{"width":27,"height":120,"data":{"name":"A"},"transform":[{"filter":"datum.s=='M'&&datum.p<=10&&datum.k==7"}],"mark":"rect","encoding":{"x":{"field":"k","type":"ordinal","axis":null},"y":{"field":"p","type":"ordinal","axis":null},"color":{"field":"v","type":"quantitative","scale":{"domain":[0,17000],"range":["#ffffff","#e02a22"],"interpolate":"rgb"},"legend":{"title":null,"orient":"none","direction":"vertical","legendX":41,"legendY":0,"values":[0,17000],"format":"d","labelColor":"#e0201b"}}}},

{"width":51,"height":24,"data":{"name":"S"},"transform":[{"filter":"datum.p>10"}],"encoding":{"y":{"field":"p","type":"ordinal","title":null,"axis":{"labelFontSize":11}}},"layer":[{"mark":{"type":"rect","stroke":"#9a9a9a","strokeWidth":1},"encoding":{"color":{"field":"v","type":"quantitative","scale":{"domain":[0,26610],"range":["#ffffff","#d4d4d4"]},"legend":null}}},{"mark":{"type":"text","fontSize":8.5,"color":"#333"},"encoding":{"text":{"field":"v","type":"nominal"}}}]},
{"width":81,"height":24,"data":{"name":"T"},"transform":[{"filter":"datum.s=='M'&&datum.p>10&&datum.k<=3"},{"lookup":"k","from":{"data":{"name":"cyto"},"key":"k","fields":["c"]}}],"mark":"rect","encoding":{"x":{"field":"c","type":"nominal","sort":{"field":"k","op":"min"},"title":null},"y":{"field":"p","type":"ordinal","title":null},"color":{"field":"v","type":"quantitative","scale":{"domain":[0,60000],"range":["#ffffff","#e02a22"],"interpolate":"rgb"},"legend":null}}},
{"width":81,"height":24,"data":{"name":"T"},"transform":[{"filter":"datum.s=='M'&&datum.p>10&&datum.k>=4&&datum.k<=6"},{"lookup":"k","from":{"data":{"name":"cyto"},"key":"k","fields":["c"]}}],"mark":"rect","encoding":{"x":{"field":"c","type":"nominal","sort":{"field":"k","op":"min"},"title":null},"y":{"field":"p","type":"ordinal","axis":null},"color":{"field":"v","type":"quantitative","scale":{"domain":[0,60000],"range":["#ffffff","#e02a22"],"interpolate":"rgb"},"legend":null}}},
{"width":27,"height":24,"data":{"name":"T"},"transform":[{"filter":"datum.s=='M'&&datum.p>10&&datum.k==7"},{"lookup":"k","from":{"data":{"name":"cyto"},"key":"k","fields":["c"]}}],"mark":"rect","encoding":{"x":{"field":"c","type":"nominal","title":null},"y":{"field":"p","type":"ordinal","axis":null},"color":{"field":"v","type":"quantitative","scale":{"domain":[0,60000],"range":["#ffffff","#e02a22"],"interpolate":"rgb"},"legend":null}}},
{"width":150,"height":24,"data":{"values":[]},"mark":"text"},
{"width":81,"height":24,"data":{"name":"A"},"transform":[{"filter":"datum.s=='M'&&datum.p>10&&datum.k<=3"},{"lookup":"k","from":{"data":{"name":"cyto"},"key":"k","fields":["c"]}}],"mark":"rect","encoding":{"x":{"field":"c","type":"nominal","sort":{"field":"k","op":"min"},"title":null},"y":{"field":"p","type":"ordinal","title":null},"color":{"field":"v","type":"quantitative","scale":{"domain":[0,17000],"range":["#ffffff","#e02a22"],"interpolate":"rgb"},"legend":null}}},
{"width":81,"height":24,"data":{"name":"A"},"transform":[{"filter":"datum.s=='M'&&datum.p>10&&datum.k>=4&&datum.k<=6"},{"lookup":"k","from":{"data":{"name":"cyto"},"key":"k","fields":["c"]}}],"mark":"rect","encoding":{"x":{"field":"c","type":"nominal","sort":{"field":"k","op":"min"},"title":null},"y":{"field":"p","type":"ordinal","axis":null},"color":{"field":"v","type":"quantitative","scale":{"domain":[0,17000],"range":["#ffffff","#e02a22"],"interpolate":"rgb"},"legend":null}}},
{"width":27,"height":24,"data":{"name":"A"},"transform":[{"filter":"datum.s=='M'&&datum.p>10&&datum.k==7"},{"lookup":"k","from":{"data":{"name":"cyto"},"key":"k","fields":["c"]}}],"mark":"rect","encoding":{"x":{"field":"c","type":"nominal","title":null},"y":{"field":"p","type":"ordinal","axis":null},"color":{"field":"v","type":"quantitative","scale":{"domain":[0,17000],"range":["#ffffff","#e02a22"],"interpolate":"rgb"},"legend":null}}}
]
}
